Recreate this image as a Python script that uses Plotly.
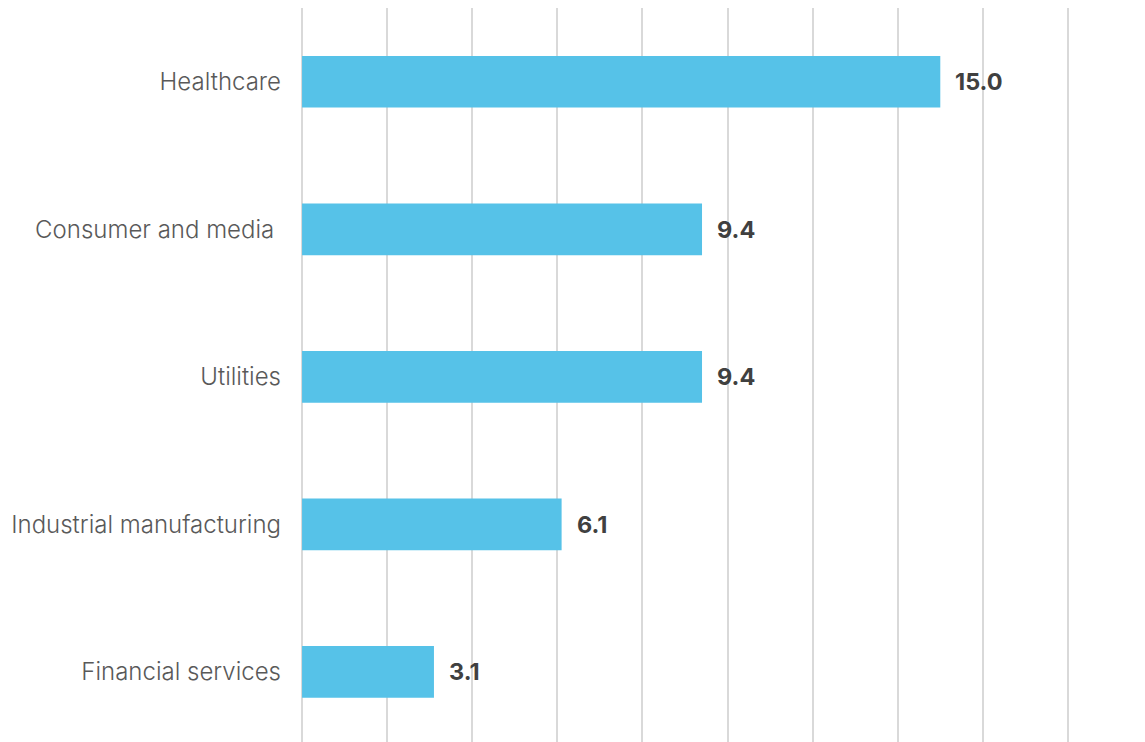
import plotly.graph_objects as go

categories = ["Financial services", "Industrial manufacturing", "Utilities", "Consumer and media\u00a0", "Healthcare"]
values = [3.1, 6.1, 9.4, 9.4, 15.0]
value_labels = ["3.1", "6.1", "9.4", "9.4", "15.0"]

fig = go.Figure()
fig.add_trace(go.Bar(
    x=values, y=categories, orientation="h",
    marker=dict(color="#56C2E8", line=dict(width=0)),
    width=0.35, hoverinfo="skip",
))

for v, c, t in zip(values, categories, value_labels):
    fig.add_annotation(x=v, y=c, text=t, showarrow=False, xanchor="left", yanchor="middle",
                       xshift=13, font=dict(family="Inter", size=23.5, color="#404040", weight="bold"))

fig.update_layout(
    width=1145, height=742,
    margin=dict(l=301, r=76, t=8, b=0),
    plot_bgcolor="white", paper_bgcolor="white",
    showlegend=False,
    font=dict(family="Inter"),
    xaxis=dict(range=[-0.025, 18.025], dtick=2, tick0=0, showgrid=True, gridcolor="#d9d9d9", gridwidth=1.5,
               zeroline=False, showticklabels=False, showline=False, fixedrange=True),
    yaxis=dict(categoryorder="array", categoryarray=categories, range=[-0.475, 4.5],
               showgrid=False, zeroline=False, showline=False, ticklabelstandoff=19,
               tickfont=dict(family="Inter", size=24, color="#595959", weight=300)),
)

fig.write_html("out.html")
